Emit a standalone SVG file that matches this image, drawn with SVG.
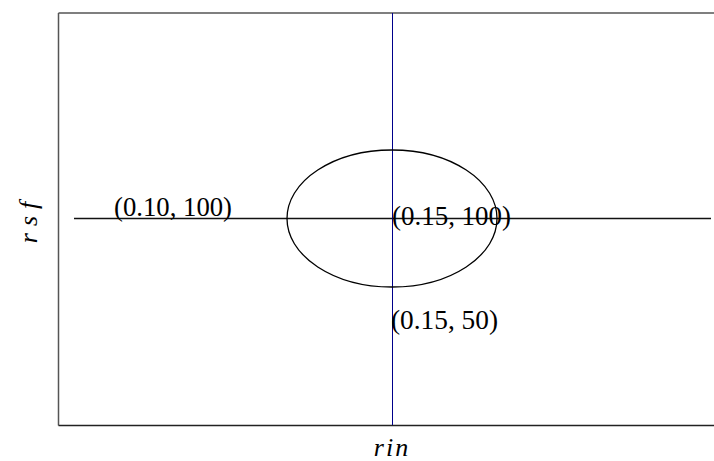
<svg xmlns="http://www.w3.org/2000/svg" width="714" height="461" viewBox="0 0 714 461">
<style>
.ln{fill:none;stroke:#000;stroke-width:1.3}
</style>
<rect width="714" height="461" fill="#fff"/>
<g id="frame">
<path d="M58.5,425.5 V13 M58.5,13 H714" fill="none" stroke="#555" stroke-width="1.5"/>
<path d="M58.5,425.5 H714" fill="none" stroke="#222" stroke-width="1.5"/>
</g>
<g id="connectors">
<line x1="74" y1="218.5" x2="711" y2="218.5" stroke="#111" stroke-width="1.5"/>
<line x1="392.5" y1="13" x2="392.5" y2="425" stroke="#00008b" stroke-width="1"/>
</g>
<g id="ellipse">
<ellipse class="ln" cx="392" cy="218.5" rx="105" ry="68.5"/>
</g>
<g id="labels" font-family="Liberation Serif, Times New Roman, serif" font-size="27" fill="#000">
<text x="114" y="216" textLength="118" lengthAdjust="spacingAndGlyphs">(0.10, 100)</text>
<text x="392" y="225" textLength="119" lengthAdjust="spacingAndGlyphs">(0.15, 100)</text>
<text x="391" y="329" textLength="107" lengthAdjust="spacingAndGlyphs">(0.15, 50)</text>
<text x="392" y="456" text-anchor="middle" letter-spacing="2" font-style="italic" font-size="26">rin</text>
<text transform="translate(37,219) rotate(-90)" text-anchor="middle" letter-spacing="7" font-style="italic" font-size="26">rsf</text>
</g>
</svg>
